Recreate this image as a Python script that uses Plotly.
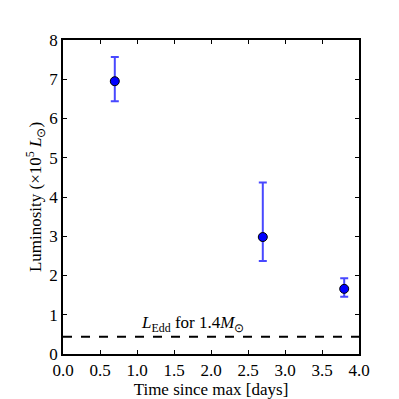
import plotly.graph_objects as go

days = [0.7, 2.7, 3.8]
lum = [6.95, 2.98, 1.66]
err_up = [0.62, 1.39, 0.27]
err_down = [0.51, 0.61, 0.20]
edd_level = 0.44
x_ticks = [0.0, 0.5, 1.0, 1.5, 2.0, 2.5, 3.0, 3.5, 4.0]

font = "Liberation Serif"

fig = go.Figure()
fig.add_trace(go.Scatter(
    x=[0, 4], y=[edd_level, edd_level], mode="lines",
    line=dict(color="black", width=2, dash="dash"), showlegend=False))
fig.add_trace(go.Scatter(
    x=days, y=lum, mode="markers",
    marker=dict(color="#0000ff", size=9, line=dict(color="black", width=1)),
    error_y=dict(type="data", symmetric=False, array=err_up, arrayminus=err_down,
                 color="rgba(40,40,255,0.85)", thickness=2, width=4),
    showlegend=False))

fig.add_annotation(x=1.75, y=edd_level, yshift=13, showarrow=False,
                   text="<i>L</i><sub>Edd</sub> for 1.4<i>M</i><sub>⊙</sub>",
                   font=dict(family=font, size=17, color="black"))

axis = dict(showgrid=False, zeroline=False, showline=True, linecolor="black",
            linewidth=1.5, mirror="ticks", ticks="inside", ticklen=4, automargin=False,
            tickcolor="black", tickfont=dict(family=font, size=17, color="black"))
fig.update_xaxes(range=[0, 4], tickvals=x_ticks, ticktext=[f"{t:.1f}" for t in x_ticks],
                 title=dict(text="Time since max [days]", standoff=2,
                            font=dict(family=font, size=17, color="black")), **axis)
fig.update_yaxes(range=[0, 8], dtick=1,
                 title=dict(text="Luminosity (×10<sup>5</sup> <i>L</i><sub>⊙</sub>)", standoff=3,
                            font=dict(family=font, size=17, color="black")), **axis)
# page body adds ~8px offset, so the figure is a bit smaller than the window
fig.update_layout(width=391, height=391, plot_bgcolor="white", paper_bgcolor="white",
                  margin=dict(l=55, r=40, t=32, b=45))
fig.write_html("out.html")
